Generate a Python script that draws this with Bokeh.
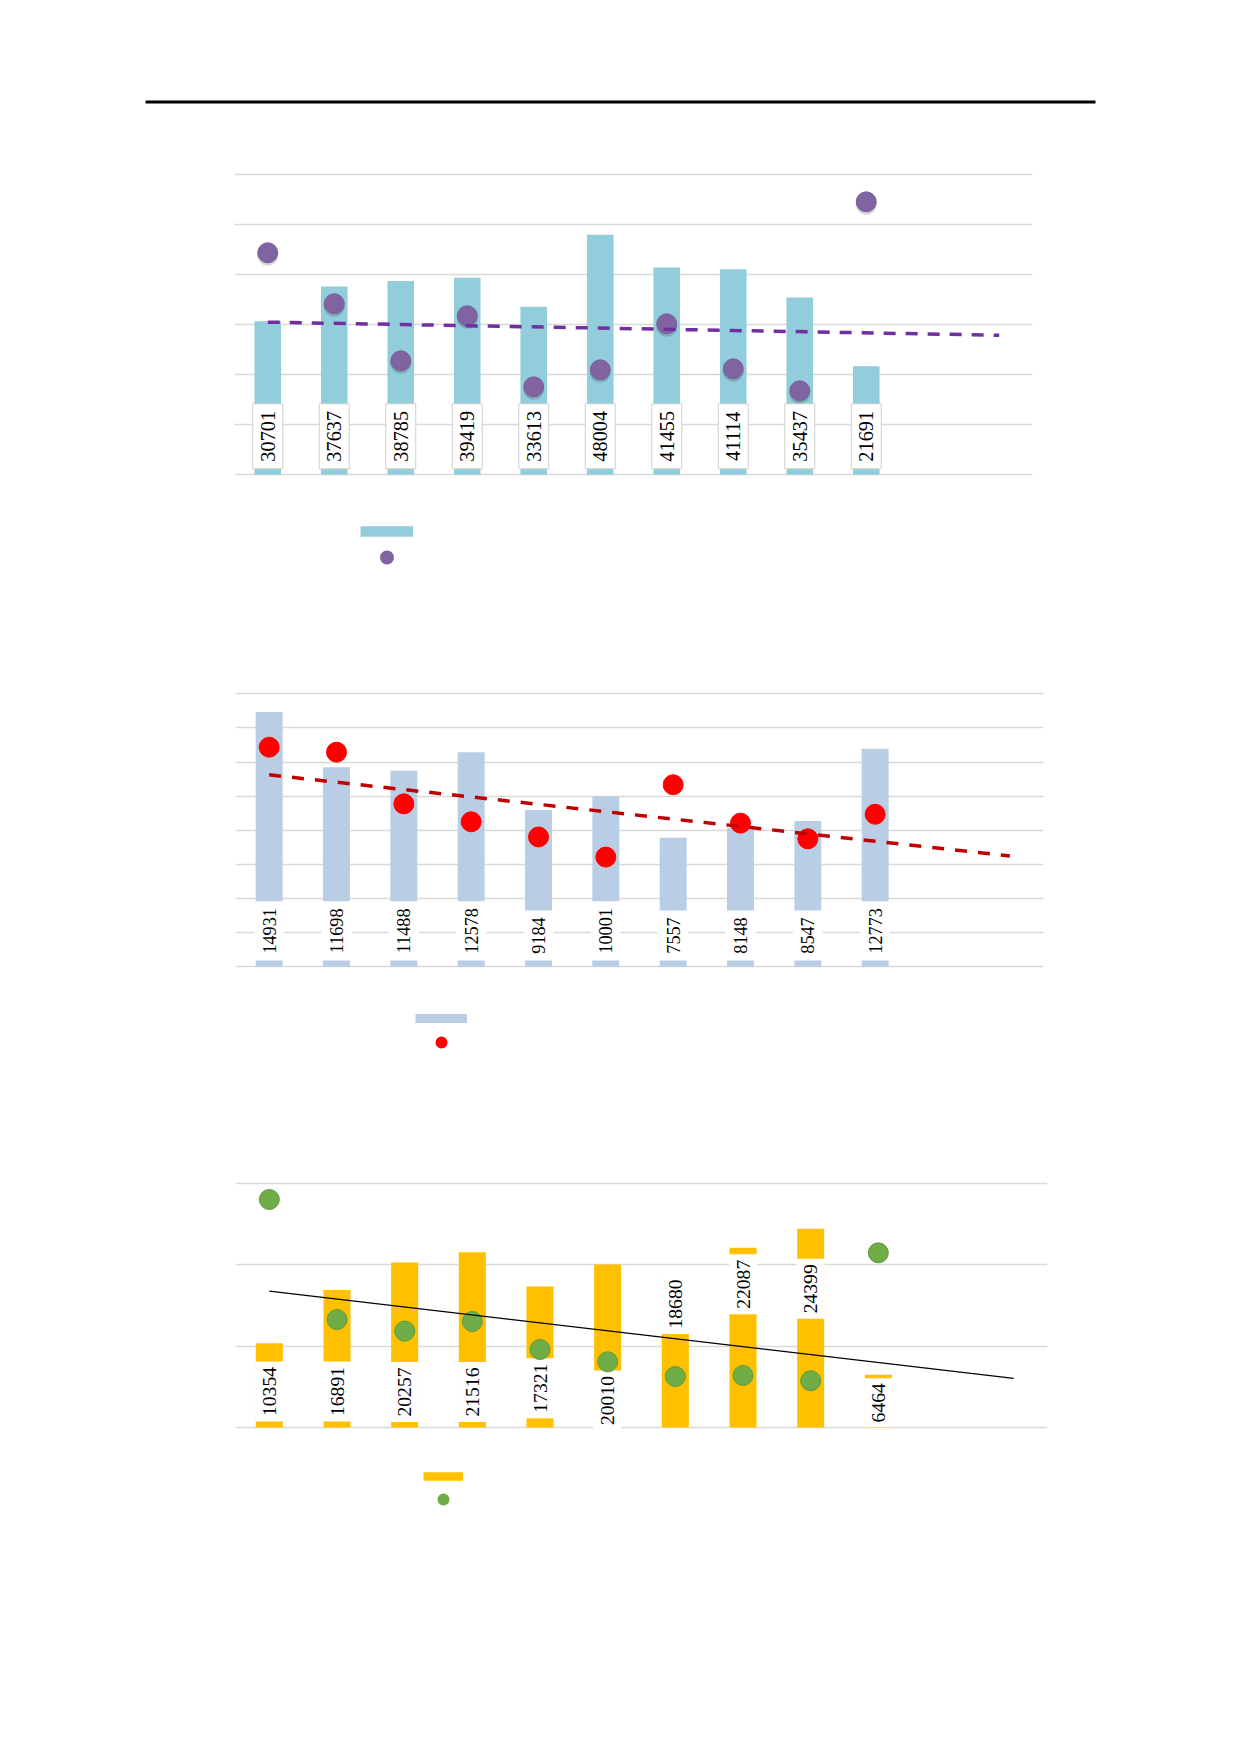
import numpy as np
from bokeh.plotting import figure
from bokeh.models import (ColumnDataSource, Range1d, FixedTicker, Grid,
                          Legend, LegendItem)
from bokeh.core.properties import value
from bokeh.embed import file_html
from bokeh.resources import INLINE

# ---------------- data ----------------
periods = [1, 2, 3, 4, 5, 6, 7, 8, 9, 10]

bars1 = [30701, 37637, 38785, 39419, 33613, 48004, 41455, 41114, 35437, 21691]
rate1 = [22.2, 17.1, 11.4, 15.9, 8.8, 10.5, 15.1, 10.6, 8.4, 27.3]

bars2 = [14931, 11698, 11488, 12578, 9184, 10001, 7557, 8148, 8547, 12773]
rate2 = [12.87, 12.58, 9.55, 8.50, 7.61, 6.43, 10.67, 8.42, 7.50, 8.94]

bars3 = [10354, 16891, 20257, 21516, 17321, 20010, 18680, 22087, 24399, 6464]
rate3 = [28.0, 13.26, 11.83, 13.02, 9.58, 8.07, 6.26, 6.39, 5.74, 21.45]

# label anchors (chart 3 labels were placed individually, in value units)
label_mid3 = [4421, 4421, 4360, 4360, 4826, 3316, 15166, 17585, 17032, 3033]

PAGE_W = 1240
FONT = "Liberation Serif"


def build(cfg, bars, rates, label_mid=None):
    ft, fb = cfg["frame_top"], cfg["frame_bottom"]
    ymax = cfg["ymax"]
    ppu = (cfg["zero_y"] - cfg["max_y"]) / ymax
    y0 = -(fb - cfg["zero_y"]) / ppu
    y1 = ymax + (cfg["max_y"] - ft) / ppu
    k = cfg["sec_max"] / ymax
    bl = cfg["frame_left"]
    br = PAGE_W - bl - cfg["frame_w"]
    bt = ft - cfg["fig_top"]
    bb = cfg["fig_top"] + cfg["fig_h"] - fb

    p = figure(width=PAGE_W, height=cfg["fig_h"],
               x_range=Range1d(0.5, 12.5), y_range=Range1d(y0, y1),
               output_backend="svg", toolbar_location=None,
               x_axis_location=None, y_axis_location=None,
               min_border_left=bl, min_border_right=br,
               min_border_top=bt, min_border_bottom=bb)
    p.extra_y_ranges = {"rate": Range1d(y0 * k, y1 * k)}
    p.outline_line_color = None
    p.xgrid.visible = False
    p.ygrid.visible = False
    p.add_layout(Grid(dimension=1,
                      ticker=FixedTicker(ticks=list(range(0, ymax + 1, cfg["step"]))),
                      grid_line_color="#D9D9D9", grid_line_width=1.3))

    bsrc = ColumnDataSource(dict(x=periods, top=bars, rate=rates))
    p.vbar(x="x", top="top", bottom=0, width=0.4, source=bsrc,
           fill_color=cfg["bar_color"], line_color=None)

    # data labels
    labels = [str(v) for v in bars]
    heights = [cfg["box_h"][len(s)] for s in labels]
    if label_mid is None:
        mids = [(cfg["box_gap"] + h / 2.0) / ppu for h in heights]
    else:
        mids = label_mid
    src = ColumnDataSource(dict(x=periods, y=mids, h=heights, t=labels))
    p.rect(x="x", y="y", width=cfg["box_w"], height="h", source=src,
           width_units="screen", height_units="screen",
           fill_color="white", line_color=cfg["box_line"], line_width=1)
    p.text(x="x", y="y", text="t", source=src, angle=np.pi / 2,
           text_align="center", text_baseline="middle",
           text_font=value(FONT), text_font_size=cfg["font_size"],
           text_color="black")

    # dots
    sppu = ppu / k
    if cfg.get("shadow"):
        p.scatter(x=periods, y=[r - 2.5 / sppu for r in rates], size=21,
                  fill_color="black", fill_alpha=0.16, line_color=None,
                  y_range_name="rate")
    p.scatter(x="x", y="rate", source=bsrc, size=20, fill_color=cfg["dot_color"],
              line_color=cfg["dot_line"], line_width=1, y_range_name="rate")

    # linear trend of the dots, extended two periods forward
    coef = np.polyfit(periods, rates, 1)
    tx = [periods[0], periods[-1] + 2]
    ty = list(np.polyval(coef, tx))
    p.line(x=tx, y=ty, y_range_name="rate", line_color=cfg["trend_color"],
           line_width=cfg["trend_width"], line_dash=cfg["trend_dash"])

    # legend keys (the original shows no legend texts); hidden key renderers
    lg = cfg["legend"]
    r_bar = p.line(x="x", y="top", source=bsrc, line_color=cfg["bar_color"],
                   line_width=lg["bar_h"], visible=False)
    sz = min(lg["gw"], lg["gh"]) * 0.4
    r_dot = p.scatter(x="x", y="rate", source=bsrc, size=sz,
                      fill_color=cfg["dot_color"], line_color=cfg["dot_color"],
                      line_width=lg["dot_d"] - sz, y_range_name="rate",
                      visible=False)
    legend = Legend(items=[LegendItem(label=value(" "), renderers=[r_bar]),
                           LegendItem(label=value(" "), renderers=[r_dot])],
                    location=(lg["vx"], lg["vy"]), orientation="vertical",
                    glyph_width=lg["gw"], glyph_height=lg["gh"],
                    label_height=lg["gh"], label_width=1, label_standoff=0,
                    label_text_font_size="1px", spacing=lg["spacing"],
                    padding=0, margin=0, border_line_color=None,
                    background_fill_alpha=0, inactive_fill_alpha=0)
    p.add_layout(legend, "center")
    return p


# header rule
hdr = figure(width=PAGE_W, height=112, x_range=Range1d(0, 1), y_range=Range1d(0, 1),
             output_backend="svg", toolbar_location=None,
             x_axis_location=None, y_axis_location=None,
             min_border_left=145, min_border_right=145,
             min_border_top=100, min_border_bottom=9)
hdr.background_fill_color = "black"
hdr.outline_line_color = None
hdr.xgrid.visible = False
hdr.ygrid.visible = False

cfg1 = dict(fig_top=112, fig_h=488, frame_top=171, frame_bottom=590,
            zero_y=474.3, max_y=174.3, ymax=60000, step=10000, sec_max=30,
            frame_left=234, frame_w=798,
            bar_color="#92CDDC", dot_color="#8064A2", dot_line="#7A5E9C",
            trend_color="#7030A0", trend_width=3.5, trend_dash="12 10",
            box_h={5: 65, 4: 56}, box_w=30, box_gap=6, box_line="#CFCFCF",
            font_size="20.3px", shadow=True,
            legend=dict(vx=126, vy=23.7, gw=53, gh=18, spacing=8,
                        bar_h=10.7, dot_d=14))

cfg2 = dict(fig_top=600, fig_h=480, frame_top=690, frame_bottom=1070,
            zero_y=966.3, max_y=693.3, ymax=16000, step=2000, sec_max=16,
            frame_left=235, frame_w=808,
            bar_color="#B9CDE5", dot_color="#FF0000", dot_line="#FF0000",
            trend_color="#C00000", trend_width=3.5, trend_dash="12 11",
            box_h={5: 59.3, 4: 50}, box_w=30, box_gap=6.3, box_line=None,
            font_size="18.2px",
            legend=dict(vx=180, vy=19.2, gw=52, gh=18, spacing=6,
                        bar_h=9, dot_d=12))

cfg3 = dict(fig_top=1080, fig_h=660, frame_top=1180, frame_bottom=1520,
            zero_y=1427, max_y=1182.7, ymax=30000, step=10000, sec_max=30,
            frame_left=235, frame_w=812,
            bar_color="#FFC000", dot_color="#70AD47", dot_line="#5B9A3C",
            trend_color="black", trend_width=1.2, trend_dash="solid",
            box_h={5: 60, 4: 49}, box_w=28, box_gap=0, box_line=None,
            font_size="19.6px",
            legend=dict(vx=188.3, vy=12, gw=40, gh=18, spacing=5,
                        bar_h=8.6, dot_d=12))

p1 = build(cfg1, bars1, rate1)
p2 = build(cfg2, bars2, rate2)
p3 = build(cfg3, bars3, rate3, label_mid=label_mid3)

open("out.html", "w").write(file_html([hdr, p1, p2, p3], INLINE))
